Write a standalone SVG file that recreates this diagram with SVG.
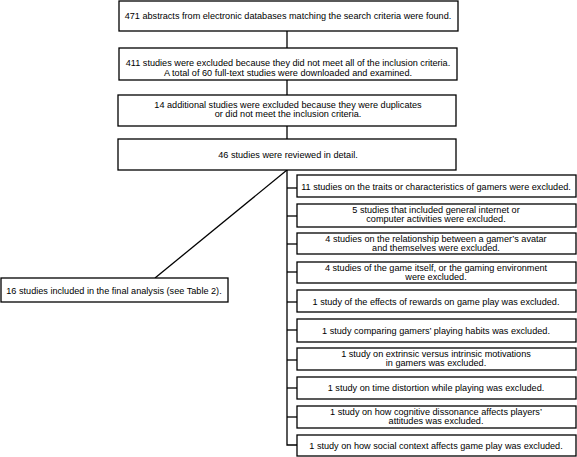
<svg xmlns="http://www.w3.org/2000/svg" width="577" height="457" viewBox="0 0 577 457">
<style>
.box{fill:#fff;stroke:#000;stroke-width:1.3}
.t{font-family:"Liberation Sans",Arial,sans-serif;font-size:9.15px;fill:#000;text-anchor:middle}
.c{fill:none;stroke:#000;stroke-width:1.3}
</style>
<rect width="577" height="457" fill="#fff"/>
<g id="connectors">
<line class="c" x1="287" y1="31" x2="287" y2="48"/>
<line class="c" x1="287" y1="80" x2="287" y2="95"/>
<line class="c" x1="287" y1="126" x2="287" y2="139"/>
<line class="c" x1="287" y1="170" x2="155" y2="278"/>
<polyline class="c" points="287,170 287,445 297,445"/>
<line class="c" x1="287" y1="188" x2="297" y2="188"/>
<line class="c" x1="287" y1="216" x2="297" y2="216"/>
<line class="c" x1="287" y1="244" x2="297" y2="244"/>
<line class="c" x1="287" y1="272" x2="297" y2="272"/>
<line class="c" x1="287" y1="302" x2="297" y2="302"/>
<line class="c" x1="287" y1="330" x2="297" y2="330"/>
<line class="c" x1="287" y1="360" x2="297" y2="360"/>
<line class="c" x1="287" y1="388" x2="297" y2="388"/>
<line class="c" x1="287" y1="417" x2="297" y2="417"/>
</g>
<g id="n1"><rect class="box" x="119" y="1" width="339" height="30"/><text class="t" x="288" y="19">471 abstracts from electronic databases matching the search criteria were found.</text></g>
<g id="n2"><rect class="box" x="119" y="48" width="338" height="32"/><text class="t" x="288" y="66">411 studies were excluded because they did not meet all of the inclusion criteria.</text><text class="t" x="288" y="75.5">A total of 60 full-text studies were downloaded and examined.</text></g>
<g id="n3"><rect class="box" x="118" y="95" width="338" height="31"/><text class="t" x="288" y="107.5">14 additional studies were excluded because they were duplicates</text><text class="t" x="288" y="117">or did not meet the inclusion criteria.</text></g>
<g id="n4"><rect class="box" x="118" y="139" width="338" height="31"/><text class="t" x="288" y="157.5">46 studies were reviewed in detail.</text></g>
<g id="n5"><rect class="box" x="1" y="278" width="227" height="24"/><text class="t" x="114" y="294">16 studies included in the final analysis (see Table 2).</text></g>
<g id="e1"><rect class="box" x="297" y="175" width="279" height="22"/><text class="t" x="436" y="189.5">11 studies on the traits or characteristics of gamers were excluded.</text></g>
<g id="e2"><rect class="box" x="297" y="204" width="279" height="23"/><text class="t" x="436" y="212.5">5 studies that included general internet or</text><text class="t" x="436" y="221.5">computer activities were excluded.</text></g>
<g id="e3"><rect class="box" x="297" y="233" width="279" height="21"/><text class="t" x="436" y="241.5">4 studies on the relationship between a gamer’s avatar</text><text class="t" x="436" y="250.5">and themselves were excluded.</text></g>
<g id="e4"><rect class="box" x="297" y="262" width="279" height="21"/><text class="t" x="436" y="270.5">4 studies of the game itself, or the gaming environment</text><text class="t" x="436" y="279.5">were excluded.</text></g>
<g id="e5"><rect class="box" x="297" y="290" width="279" height="22"/><text class="t" x="436" y="304.5">1  study of the effects of rewards on game play was excluded.</text></g>
<g id="e6"><rect class="box" x="297" y="319" width="279" height="23"/><text class="t" x="436" y="333.5">1 study comparing gamers’ playing habits was excluded.</text></g>
<g id="e7"><rect class="box" x="297" y="348" width="279" height="22"/><text class="t" x="436" y="356.5">1  study on extrinsic versus intrinsic motivations</text><text class="t" x="436" y="365.5">in gamers was excluded.</text></g>
<g id="e8"><rect class="box" x="297" y="377" width="279" height="22"/><text class="t" x="436" y="391">1  study on time distortion while playing was excluded.</text></g>
<g id="e9"><rect class="box" x="297" y="406" width="279" height="22"/><text class="t" x="436" y="414.5">1  study on how cognitive dissonance affects players’</text><text class="t" x="436" y="423.5">attitudes was excluded.</text></g>
<g id="e10"><rect class="box" x="297" y="435" width="279" height="21"/><text class="t" x="436" y="449">1  study on how social context affects game play was excluded.</text></g>
</svg>
